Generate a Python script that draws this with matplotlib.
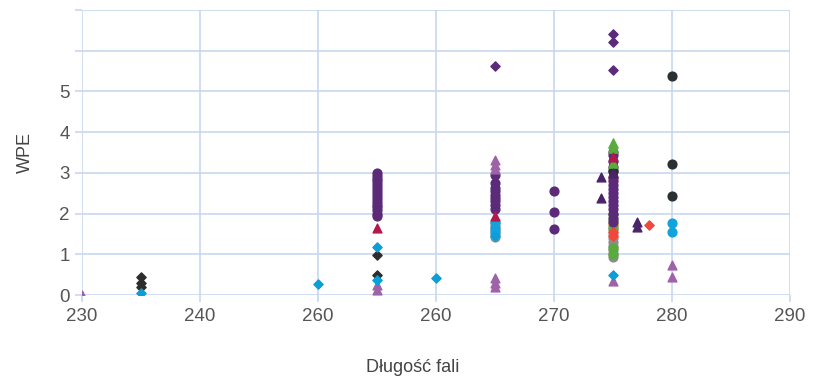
import matplotlib
matplotlib.use('Agg')
import matplotlib.pyplot as plt

plt.rcParams['font.family'] = ['Liberation Sans', 'DejaVu Sans']

# tick labels as printed on the original chart
x_ticks = [230, 240, 250, 260, 270, 280, 290]
x_tick_labels = ['230', '240', '260', '260', '270', '280', '290']
y_ticks = [0, 1, 2, 3, 4, 5, 6, 7]
y_tick_labels = ['0', '1', '2', '3', '4', '5', '', '']

# series: light purple triangles
lp_tri_x = [230, 255, 255, 265, 265, 265, 265, 265, 265, 275, 280, 280]
lp_tri_y = [0.0, 0.25, 0.13, 3.31, 3.2, 3.1, 0.42, 0.3, 0.2, 0.34, 0.74, 0.45]

# black diamonds
blk_dia_x = [235, 235, 235, 255, 255]
blk_dia_y = [0.43, 0.3, 0.2, 0.98, 0.49]

# blue diamonds
blu_dia_x = [235, 250, 260, 255, 255, 275, 265]
blu_dia_y = [0.04, 0.27, 0.41, 1.19, 0.37, 0.48, 1.45]

# dark purple circles
pur_cir_x = [255] * 16 + [265] * 9 + [270] * 3 + [275] * 17
pur_cir_y = [3.0, 2.93, 2.86, 2.79, 2.72, 2.65, 2.58, 2.5, 2.43, 2.36, 2.29, 2.22, 2.15, 2.08, 2.0, 1.93,
             2.94, 2.75, 2.62, 2.55, 2.45, 2.38, 2.3, 2.2, 2.12,
             2.56, 2.04, 1.61,
             3.5, 3.45, 3.3, 3.15, 3.05, 2.9, 2.8, 2.7, 2.6, 2.5, 2.4, 2.3, 2.2, 2.1, 2.0, 1.9, 1.8]

# dark purple diamonds
pur_dia_x = [265, 275, 275, 275]
pur_dia_y = [5.62, 6.42, 6.21, 5.53]

# dark purple triangles
dp_tri_x = [274, 274, 277, 277, 275]
dp_tri_y = [2.9, 2.39, 1.8, 1.66, 3.0]

# black circles
blk_cir_x = [280, 280, 280, 275]
blk_cir_y = [5.39, 3.21, 2.42, 3.05]

# blue circles
blu_cir_x = [280, 280, 265, 265, 265]
blu_cir_y = [1.76, 1.55, 1.8, 1.65, 1.55]

# crimson
crim_x = [255, 265, 275]
crim_y = [1.65, 1.95, 3.39]

# red-orange diamonds
red_dia_x = [278, 275, 275]
red_dia_y = [1.71, 1.45, 1.55]

# green
grn_tri_x = [275, 275, 275]
grn_tri_y = [3.74, 3.6, 3.25]
grn_cir_x = [275, 275, 275, 275, 275]
grn_cir_y = [2.0, 1.85, 1.65, 1.15, 1.0]

# gray circles
gry_cir_x = [265] * 5 + [275] * 9
gry_cir_y = [1.78, 1.7, 1.6, 1.5, 1.42,
             1.7, 1.6, 1.5, 1.4, 1.3, 1.2, 1.1, 1.0, 0.94]

# orange
org_x = [275, 275]
org_y = [2.85, 1.75]

grid_c = '#c8d7ef'
txt_c = '#555555'

fig = plt.figure(figsize=(8.21, 3.77), dpi=100)
ax = fig.add_axes([0.0999, 0.2175, 0.8625, 0.756])

ax.scatter(gry_cir_x, gry_cir_y, s=40, marker='o', c='#8c8c8c', zorder=3)
ax.scatter(blu_cir_x, blu_cir_y, s=40, marker='o', c='#12a3dc', zorder=3)
ax.scatter(org_x, org_y, s=40, marker='o', c='#f39c12', zorder=3)
ax.scatter(grn_cir_x, grn_cir_y, s=40, marker='o', c='#5aab3d', zorder=3)
ax.scatter(pur_cir_x, pur_cir_y, s=40, marker='o', c='#5b2b7a', zorder=4)
ax.scatter(blk_cir_x, blk_cir_y, s=40, marker='o', c='#2b3033', zorder=4)
ax.scatter(grn_tri_x, grn_tri_y, s=45, marker='^', c='#5aab3d', zorder=4)
ax.scatter(crim_x, crim_y, s=40, marker='^', c='#b5174b', zorder=4)
ax.scatter(lp_tri_x, lp_tri_y, s=40, marker='^', c='#9e62a8', zorder=4)
ax.scatter(dp_tri_x, dp_tri_y, s=40, marker='^', c='#4a2468', zorder=4)
ax.scatter(red_dia_x, red_dia_y, s=22, marker='D', c='#f0483a', zorder=5)
ax.scatter(blk_dia_x, blk_dia_y, s=22, marker='D', c='#2d2d2d', zorder=5)
ax.scatter(blu_dia_x, blu_dia_y, s=22, marker='D', c='#0a9fd8', zorder=5)
ax.scatter(pur_dia_x, pur_dia_y, s=22, marker='D', c='#5b2b7a', zorder=5)

ax.set_xlim(230, 290)
ax.set_ylim(0, 7)
ax.set_xticks(x_ticks)
ax.set_xticklabels(x_tick_labels)
ax.set_yticks(y_ticks)
ax.set_yticklabels(y_tick_labels)
ax.grid(True, color=grid_c, linewidth=1.2)
ax.set_axisbelow(True)
for s in ax.spines.values():
    s.set_visible(False)
ax.tick_params(colors=grid_c, labelcolor=txt_c, labelsize=13.5, length=5, width=1.2, pad=4)

ax.set_xlabel('Długość fali', fontsize=13, color='#444444')
ax.xaxis.set_label_coords(0.467, -0.225)
ax.set_ylabel('WPE', fontsize=13, color='#444444', labelpad=18)

fig.savefig('out.png', dpi=100)
